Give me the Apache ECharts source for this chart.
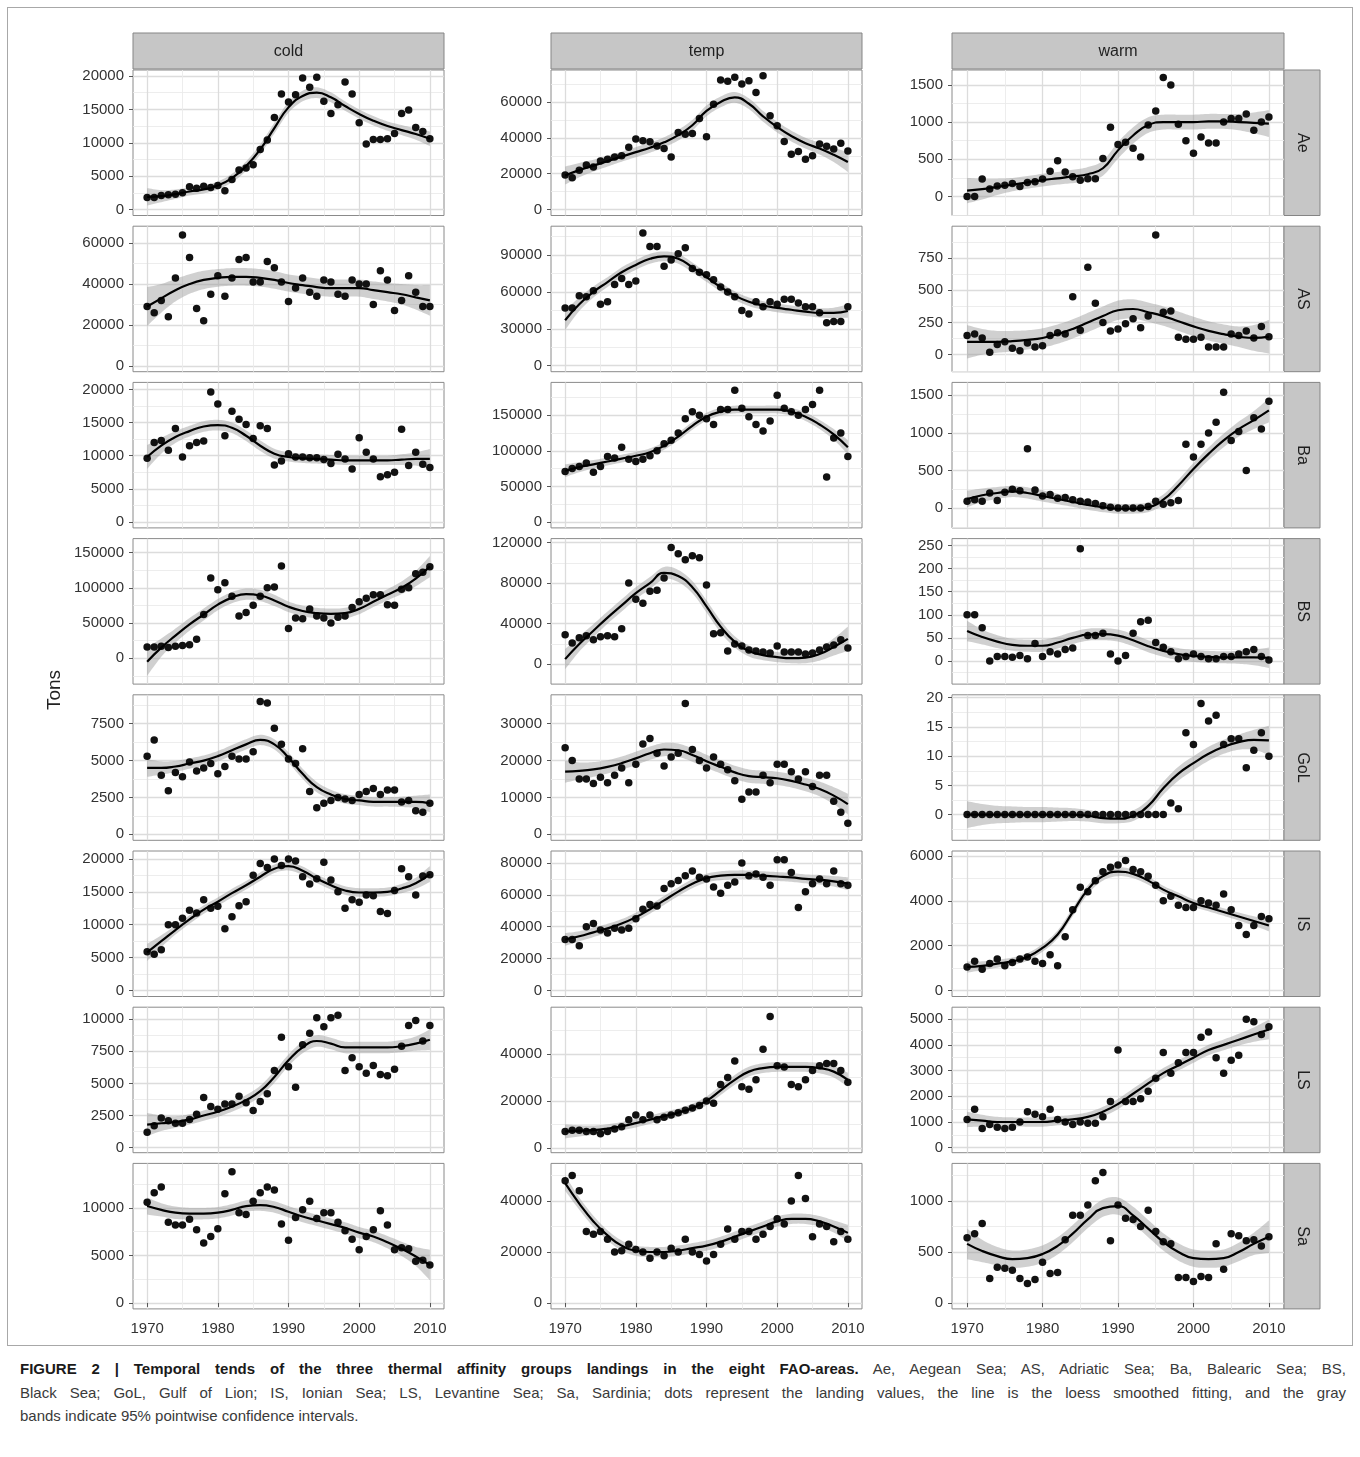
<!DOCTYPE html>
<html>
<head>
<meta charset="utf-8">
<title>Figure 2</title>
<script src="https://cdn.jsdelivr.net/npm/echarts@6.0.0/dist/echarts.min.js"></script>
<style>
  html, body { margin: 0; padding: 0; background: #fff; }
  #frame { position: absolute; left: 7px; top: 7px; width: 1344px; height: 1337px; border: 1px solid #a8a8a8; }
  #chart { position: absolute; left: 0; top: 0; width: 1360px; height: 1352px; }
  #caption { position: absolute; left: 20px; top: 1357px; width: 1326px; font-family: "Liberation Sans", Arial, sans-serif;
             font-size: 15px; line-height: 23.5px; color: #3a3a3a; }
  #caption .j { text-align: justify; text-align-last: justify; }
  #caption b { color: #1a1a1a; }
</style>
</head>
<body>
<div id="frame"></div>
<div id="chart"></div>
<div id="caption">
  <div class="j"><b>FIGURE 2 | Temporal tends of the three thermal affinity groups landings in the eight FAO-areas.</b> Ae, Aegean Sea; AS, Adriatic Sea; Ba, Balearic Sea; BS,</div>
  <div class="j">Black Sea; GoL, Gulf of Lion; IS, Ionian Sea; LS, Levantine Sea; Sa, Sardinia; dots represent the landing values, the line is the loess smoothed fitting, and the gray</div>
  <div>bands indicate 95% pointwise confidence intervals.</div>
</div>
<script>
// years of the landings and of the loess curve
var years = [1970, 1971, 1972, 1973, 1974, 1975, 1976, 1977, 1978, 1979, 1980, 1981, 1982, 1983, 1984, 1985, 1986, 1987, 1988, 1989,
    1990, 1991, 1992, 1993, 1994, 1995, 1996, 1997, 1998, 1999, 2000, 2001, 2002, 2003, 2004, 2005, 2006, 2007, 2008, 2009, 2010];
var fitYears = [1970, 1972, 1974, 1976, 1978, 1980, 1982, 1984, 1986, 1988, 1990, 1992, 1994, 1996, 1998, 2000, 2002, 2004, 2006, 2008, 2010];
var groups = ['cold', 'temp', 'warm'];
var areas = ['Ae', 'AS', 'Ba', 'BS', 'GoL', 'IS', 'LS', 'Sa'];
var xTicks = [1970, 1980, 1990, 2000, 2010];
var xMinor = [1975, 1985, 1995, 2005];

// Ae
var aeCold = [1800, 1800, 2100, 2200, 2300, 2500, 3400, 3200, 3500, 3300, 3600, 2800, 4500, 5900, 6200, 6700, 9000, 10400, 13800, 17300, 16100, 17200, 19700, 18300, 19800, 16200, 14400, 15700, 19100, 17300, 13000, 9800, 10500, 10500, 10600, 11400, 14400, 14900, 12300, 11700, 10600];
var aeColdFit = [1900, 2000, 2300, 2700, 3000, 3600, 4700, 6500, 9000, 12200, 15300, 17000, 17500, 16800, 15500, 14300, 13300, 12500, 11900, 11300, 10600];
var aeColdSe = [1300, 900, 700, 600, 600, 600, 650, 700, 750, 800, 800, 800, 800, 750, 700, 700, 700, 700, 750, 850, 1100];
var aeColdTicks = [0, 5000, 10000, 15000, 20000];
var aeColdRange = [-900, 20900];

var aeTemp = [19300, 17800, 21900, 24900, 23700, 27100, 28000, 29300, 30000, 34700, 39300, 38300, 37800, 35500, 34000, 29300, 43000, 42000, 42400, 50800, 40600, 58700, 72200, 71500, 73700, 70000, 71800, 65300, 74600, 52300, 46700, 37900, 30900, 32400, 28000, 30000, 36500, 35300, 33700, 37000, 32700];
var aeTempFit = [19000, 22000, 24500, 27000, 29500, 32000, 34500, 37500, 41500, 47000, 55000, 60000, 62500, 59000, 52000, 46000, 41000, 37000, 34000, 30500, 26500];
var aeTempSe = [5000, 4000, 3300, 3000, 2800, 2800, 2800, 2800, 3000, 3000, 3000, 3000, 3000, 3000, 3000, 3000, 3000, 3000, 3300, 4000, 5500];
var aeTempTicks = [0, 20000, 40000, 60000];
var aeTempRange = [-3300, 77800];

var aeWarm = [0, 0, 235, 100, 140, 150, 175, 135, 190, 200, 235, 340, 480, 330, 265, 220, 240, 240, 510, 930, 700, 730, 650, 530, 960, 1150, 1600, 1500, 970, 750, 580, 800, 720, 720, 1000, 1050, 1050, 1110, 890, 1000, 1070];
var aeWarmFit = [80, 100, 130, 160, 190, 220, 245, 270, 300, 380, 620, 820, 960, 1000, 1000, 1000, 1010, 1010, 1000, 990, 980];
var aeWarmSe = [170, 140, 110, 90, 85, 85, 85, 90, 95, 100, 110, 110, 105, 100, 100, 100, 100, 100, 110, 140, 180];
var aeWarmTicks = [0, 500, 1000, 1500];
var aeWarmRange = [-255, 1700];

// AS
var asCold = [29000, 26000, 32000, 24000, 43000, 64000, 53000, 28000, 22000, 35000, 44000, 34000, 43000, 52000, 53000, 41000, 41000, 51000, 48000, 41000, 31500, 38000, 43000, 36000, 34000, 42000, 41000, 35000, 34000, 42000, 40000, 40000, 30000, 46500, 42000, 27000, 32000, 44000, 36000, 29000, 29000];
var asColdFit = [29000, 33000, 37000, 40000, 42000, 43000, 43500, 43500, 43000, 42000, 40500, 39500, 38500, 38000, 38000, 38000, 37000, 36000, 35000, 33500, 32000];
var asColdSe = [9500, 7000, 5500, 4800, 4500, 4300, 4300, 4300, 4300, 4300, 4200, 4200, 4200, 4200, 4200, 4200, 4300, 4500, 5000, 6000, 7500];
var asColdTicks = [0, 20000, 40000, 60000];
var asColdRange = [-2900, 68300];

var asTemp = [47000, 47000, 57000, 56000, 61000, 50000, 52000, 66000, 71000, 66000, 69000, 108000, 97000, 97000, 81000, 86000, 91000, 96000, 79000, 76000, 74000, 70000, 64000, 60000, 56000, 45000, 42000, 52000, 48000, 52000, 50000, 54000, 54000, 51000, 48000, 48000, 43000, 35000, 36000, 36000, 48000];
var asTempFit = [37000, 50000, 60000, 68000, 76000, 82000, 87000, 89000, 87000, 80000, 72000, 64000, 57000, 52000, 49000, 47000, 45500, 44000, 43000, 43000, 44500];
var asTempSe = [8000, 5500, 4500, 4000, 4000, 4000, 4000, 4000, 4000, 4000, 3800, 3800, 3500, 3500, 3500, 3500, 3500, 3500, 3800, 4200, 5500];
var asTempTicks = [0, 30000, 60000, 90000];
var asTempRange = [-4900, 113500];

var asWarm = [150, 160, 130, 20, 80, 100, 50, 30, 90, 60, 70, 150, 170, 160, 450, 190, 680, 400, 250, 185, 200, 240, 280, 210, 300, 930, 330, 340, 135, 120, 120, 135, 60, 60, 60, 160, 150, 185, 130, 220, 140];
var asWarmFit = [100, 100, 100, 105, 115, 130, 160, 200, 250, 300, 345, 355, 330, 300, 260, 220, 185, 160, 140, 130, 140];
var asWarmSe = [130, 100, 85, 80, 75, 75, 75, 75, 75, 75, 75, 75, 75, 75, 75, 75, 75, 75, 80, 100, 130];
var asWarmTicks = [0, 250, 500, 750];
var asWarmRange = [-132, 998];

// Ba
var baCold = [9600, 12000, 12300, 10800, 14100, 9800, 11500, 12000, 12200, 19600, 17800, 13000, 16700, 15500, 14700, 12600, 14500, 14100, 8600, 9200, 10300, 9800, 9800, 9700, 9700, 9400, 8800, 10200, 9500, 8000, 12700, 10500, 9500, 6800, 7100, 7500, 14000, 8500, 10500, 8700, 8200];
var baColdFit = [9800, 11500, 12800, 13700, 14400, 14600, 14200, 13000, 11500, 10300, 9800, 9600, 9500, 9400, 9300, 9300, 9300, 9300, 9400, 9500, 9500];
var baColdSe = [1800, 1200, 900, 800, 800, 800, 800, 800, 800, 750, 700, 700, 700, 700, 700, 700, 700, 700, 800, 1000, 1500];
var baColdTicks = [0, 5000, 10000, 15000, 20000];
var baColdRange = [-900, 21050];

var baTemp = [71000, 75000, 78000, 83000, 70000, 78000, 92000, 90000, 105000, 88000, 85000, 88000, 93000, 100000, 110000, 115000, 125000, 145000, 155000, 150000, 145000, 137000, 158000, 158000, 185000, 160000, 148000, 137000, 128000, 142000, 178000, 160000, 155000, 150000, 158000, 165000, 185000, 63000, 118000, 125000, 92000];
var baTempFit = [72000, 77000, 81000, 85000, 89000, 93000, 98000, 107000, 120000, 135000, 148000, 155000, 158000, 158000, 158000, 158000, 155000, 148000, 137000, 123000, 105000];
var baTempSe = [9000, 7000, 6000, 5500, 5500, 5500, 5500, 5500, 5500, 5500, 5500, 5500, 5500, 5500, 5500, 5500, 5500, 6000, 6500, 7500, 10000];
var baTempTicks = [0, 50000, 100000, 150000];
var baTempRange = [-8400, 196200];

var baWarm = [90, 110, 90, 200, 100, 210, 250, 230, 790, 240, 160, 180, 130, 140, 110, 90, 80, 60, 30, 10, 0, 0, 0, 0, 20, 90, 50, 70, 100, 850, 680, 850, 1000, 1140, 1540, 900, 1020, 500, 1200, 1050, 1420];
var baWarmFit = [120, 170, 200, 220, 200, 160, 120, 80, 40, 10, -10, -10, 10, 110, 300, 520, 720, 900, 1050, 1170, 1300];
var baWarmSe = [110, 90, 80, 75, 75, 75, 70, 65, 65, 65, 65, 65, 65, 70, 75, 80, 85, 90, 100, 120, 160];
var baWarmTicks = [0, 500, 1000, 1500];
var baWarmRange = [-265, 1672];

// BS
var bsCold = [16000, 16000, 17000, 15000, 17000, 18000, 19000, 27000, 62000, 114000, 97000, 107000, 88000, 60000, 65000, 75000, 88000, 100000, 101000, 131000, 42000, 57000, 56000, 70000, 60000, 57000, 50000, 58000, 60000, 72000, 80000, 85000, 90000, 90000, 76000, 75000, 98000, 100000, 120000, 122000, 130000];
var bsColdFit = [-5000, 15000, 32000, 48000, 62000, 76000, 86000, 91000, 89000, 82000, 73000, 67000, 64000, 63000, 64000, 70000, 80000, 90000, 100000, 113000, 130000];
var bsColdSe = [20000, 13000, 10000, 9000, 8500, 8000, 8000, 8000, 8000, 8000, 7500, 7500, 7500, 7500, 7500, 7500, 7500, 8000, 9000, 11000, 15000];
var bsColdTicks = [0, 50000, 100000, 150000];
var bsColdRange = [-36800, 169800];

var bsTemp = [29000, 21000, 26000, 28000, 24000, 27000, 28000, 27000, 35000, 80000, 64000, 60000, 72000, 73000, 85000, 115000, 109000, 103000, 107000, 105000, 78000, 30000, 31000, 13000, 20000, 18000, 14000, 13000, 12000, 11000, 18000, 12000, 12000, 12000, 10000, 11000, 14000, 17000, 19000, 24000, 16000];
var bsTempFit = [5000, 20000, 33000, 46000, 58000, 70000, 80000, 90000, 87000, 76000, 57000, 37000, 22000, 13000, 9000, 7000, 6000, 6500, 10000, 17000, 25000];
var bsTempSe = [10000, 7500, 6500, 6000, 6000, 6000, 6000, 6000, 6000, 6000, 6000, 6000, 5500, 5500, 5000, 5000, 5000, 5500, 6500, 8500, 12000];
var bsTempTicks = [0, 40000, 80000, 120000];
var bsTempRange = [-19650, 123900];

var bsWarm = [100, 100, 72, 0, 10, 10, 8, 12, 5, 38, 10, 20, 15, 25, 28, 243, 55, 55, 60, 15, 0, 12, 60, 85, 88, 40, 30, 20, 5, 10, 15, 10, 5, 5, 10, 10, 15, 20, 25, 10, 2];
var bsWarmFit = [65, 52, 42, 35, 33, 33, 40, 50, 57, 58, 55, 45, 32, 22, 15, 11, 9, 8, 8, 8, 7];
var bsWarmSe = [22, 16, 14, 13, 13, 13, 13, 13, 13, 13, 13, 13, 13, 13, 13, 13, 13, 13, 14, 17, 22];
var bsWarmTicks = [0, 50, 100, 150, 200, 250];
var bsWarmRange = [-50, 265];

// GoL
var golCold = [5300, 6400, 4000, 2950, 4200, 3900, 4900, 4300, 4500, 4800, 4100, 4600, 5300, 5100, 5100, 5600, 9000, 8900, 7200, 6100, 5100, 4800, 5800, 2900, 1800, 2100, 2300, 2500, 2400, 2300, 2700, 2900, 3100, 2700, 3000, 3000, 2200, 2300, 1600, 1500, 2100];
var golColdFit = [4500, 4500, 4600, 4800, 5000, 5300, 5700, 6100, 6400, 6100, 5200, 4100, 3200, 2700, 2400, 2300, 2200, 2200, 2200, 2200, 2100];
var golColdSe = [600, 450, 380, 350, 350, 350, 350, 350, 350, 350, 350, 350, 350, 320, 320, 320, 320, 320, 350, 420, 600];
var golColdTicks = [0, 2500, 5000, 7500];
var golColdRange = [-405, 9460];

var golTemp = [23500, 20000, 15000, 15000, 13800, 15500, 14000, 16000, 18000, 14000, 19000, 24500, 26000, 22000, 18500, 21000, 22000, 35500, 23000, 20000, 18000, 21000, 19000, 17500, 14500, 9500, 11500, 11500, 16000, 14000, 19000, 19000, 17000, 15000, 17000, 13000, 16000, 16000, 9000, 6000, 3000];
var golTempFit = [17000, 17200, 17600, 18300, 19300, 20600, 22000, 23000, 22800, 21500, 19800, 18300, 16800, 15800, 15500, 15200, 14500, 13500, 12300, 10500, 8200];
var golTempSe = [3000, 2300, 2000, 1800, 1800, 1800, 1800, 1800, 1800, 1800, 1800, 1800, 1800, 1800, 1800, 1800, 1800, 1800, 2000, 2300, 2800];
var golTempTicks = [0, 10000, 20000, 30000];
var golTempRange = [-1620, 37840];

var golWarm = [0, 0, 0, 0, 0, 0, 0, 0, 0, 0, 0, 0, 0, 0, 0, 0, 0, 0, 0, 0, 0, 0, 0, 0, 0, 0, 0, 2, 1, 14, 12, 19, 16, 17, 12, 13, 13, 8, 11, 14, 10];
var golWarmFit = [0, 0, 0, 0, 0, 0, 0, 0, -0.2, -0.6, -0.7, -0.2, 1.5, 4.5, 7, 8.8, 10.4, 11.6, 12.4, 12.8, 12.7];
var golWarmSe = [2.3, 1.8, 1.5, 1.4, 1.3, 1.3, 1.2, 1.1, 1.0, 0.9, 0.8, 0.9, 1.0, 1.1, 1.2, 1.2, 1.2, 1.2, 1.3, 1.7, 2.5];
var golWarmTicks = [0, 5, 10, 15, 20];
var golWarmRange = [-4.4, 20.5];

// IS
var isCold = [5900, 5500, 6200, 10000, 10000, 11000, 12200, 11800, 13800, 12500, 12800, 9400, 11200, 12900, 13500, 17500, 19300, 18700, 20000, 19000, 20000, 19700, 17300, 16200, 17000, 19500, 16800, 15000, 12500, 13800, 13400, 14500, 14400, 12000, 11700, 15200, 18500, 17300, 14500, 17400, 17600];
var isColdFit = [5800, 7500, 9200, 10800, 12300, 13500, 14800, 16000, 17300, 18500, 18900, 18200, 17000, 16000, 15200, 14900, 14900, 15000, 15500, 16300, 17700];
var isColdSe = [1300, 900, 700, 650, 650, 650, 650, 650, 650, 650, 650, 650, 650, 650, 650, 650, 650, 650, 700, 850, 1200];
var isColdTicks = [0, 5000, 10000, 15000, 20000];
var isColdRange = [-900, 21200];

var isTemp = [32000, 32000, 28000, 40000, 42000, 38000, 36000, 39000, 38000, 39000, 45000, 51000, 54000, 53000, 64000, 67000, 69000, 72000, 75000, 71000, 70000, 65000, 61000, 66000, 68000, 80000, 72000, 73000, 71000, 66000, 82000, 82000, 74000, 52000, 62000, 67000, 70000, 67000, 75000, 67000, 66000];
var isTempFit = [32000, 34000, 36500, 39000, 42000, 46000, 51000, 56500, 62000, 67000, 70500, 72000, 72500, 72500, 72000, 71500, 71000, 70000, 69500, 68500, 67000];
var isTempSe = [4000, 3200, 3000, 2800, 2800, 2800, 2800, 2800, 2800, 2800, 2800, 2800, 2800, 2800, 2800, 2800, 2800, 2800, 3000, 3300, 4000];
var isTempTicks = [0, 20000, 40000, 60000, 80000];
var isTempRange = [-3750, 87500];

var isWarm = [1050, 1300, 950, 1200, 1400, 1100, 1250, 1400, 1500, 1300, 1200, 1600, 1100, 2400, 3600, 4600, 4400, 4900, 5300, 5500, 5600, 5800, 5400, 5300, 5100, 4700, 4000, 4200, 3800, 3700, 3700, 4000, 3900, 3800, 4300, 3600, 2900, 2500, 2900, 3300, 3200];
var isWarmFit = [1050, 1100, 1200, 1300, 1500, 1900, 2500, 3500, 4500, 5100, 5300, 5200, 4900, 4500, 4200, 3900, 3700, 3500, 3300, 3100, 2900];
var isWarmSe = [250, 200, 180, 170, 170, 170, 180, 190, 200, 200, 200, 190, 180, 170, 170, 170, 170, 170, 180, 210, 260];
var isWarmTicks = [0, 2000, 4000, 6000];
var isWarmRange = [-267, 6222];

// LS
var lsCold = [1200, 1700, 2300, 2100, 1900, 1900, 2200, 2600, 3900, 3200, 3000, 3400, 3400, 4000, 3500, 2900, 3600, 4200, 6000, 8600, 6300, 4700, 8000, 8900, 10100, 9400, 10100, 10300, 6000, 7000, 6300, 5800, 6400, 5700, 5600, 6100, 7900, 9500, 9900, 8300, 9500];
var lsColdFit = [1800, 1900, 2000, 2200, 2500, 2800, 3200, 3700, 4400, 5500, 6800, 7800, 8300, 8100, 7800, 7800, 7800, 7800, 7900, 8100, 8400];
var lsColdSe = [900, 600, 450, 400, 400, 400, 400, 400, 420, 450, 450, 450, 450, 450, 450, 450, 450, 450, 480, 550, 800];
var lsColdTicks = [0, 2500, 5000, 7500, 10000];
var lsColdRange = [-390, 10930];

var lsTemp = [7000, 7500, 7500, 7000, 7000, 6000, 7000, 8000, 9000, 12000, 14000, 12000, 14000, 12000, 13000, 14000, 15000, 16000, 17000, 18000, 20000, 19000, 27000, 30000, 37000, 26000, 25000, 29000, 42000, 56000, 35000, 34500, 27000, 26000, 29000, 33000, 35000, 36000, 36000, 33000, 28000];
var lsTempFit = [7000, 7200, 7500, 8200, 9200, 10500, 12000, 13500, 15000, 17000, 20000, 24500, 29000, 32500, 34000, 34500, 34500, 34500, 34000, 32500, 29000];
var lsTempSe = [3000, 2400, 2000, 1800, 1800, 1800, 1800, 1800, 1800, 1800, 1900, 2000, 2100, 2100, 2100, 2100, 2100, 2100, 2200, 2500, 3000];
var lsTempTicks = [0, 20000, 40000];
var lsTempRange = [-2100, 60000];

var lsWarm = [1100, 1500, 750, 900, 800, 750, 800, 1000, 1400, 1300, 1200, 1500, 1100, 1000, 900, 1000, 950, 950, 1200, 1800, 3800, 1800, 1800, 1900, 2200, 2700, 3700, 2900, 3300, 3700, 3700, 4300, 4500, 3500, 2900, 3400, 3600, 5000, 4900, 4400, 4700];
var lsWarmFit = [1100, 1050, 1000, 1000, 1000, 1000, 1050, 1100, 1200, 1400, 1700, 2100, 2500, 2900, 3200, 3500, 3800, 4000, 4200, 4400, 4600];
var lsWarmSe = [300, 230, 200, 180, 180, 180, 180, 180, 180, 190, 200, 200, 200, 200, 200, 200, 200, 210, 230, 280, 380];
var lsWarmTicks = [0, 1000, 2000, 3000, 4000, 5000];
var lsWarmRange = [-194, 5465];

// Sa
var saCold = [10600, 11600, 12200, 8500, 8200, 8200, 8800, 7700, 6300, 7000, 7800, 11500, 13800, 9500, 9300, 10700, 11600, 12200, 11900, 8300, 6600, 9000, 9800, 10700, 8900, 9500, 9500, 8500, 7600, 6700, 5600, 7000, 7700, 9700, 8200, 5600, 5800, 5700, 4400, 4500, 4000];
var saColdFit = [10200, 9800, 9500, 9400, 9400, 9500, 9800, 10200, 10300, 10100, 9600, 9100, 8700, 8300, 7900, 7400, 7000, 6400, 5700, 4900, 4000];
var saColdSe = [900, 700, 650, 600, 600, 600, 600, 600, 600, 600, 600, 600, 600, 600, 600, 600, 600, 650, 750, 1000, 1600];
var saColdTicks = [0, 5000, 10000];
var saColdRange = [-625, 14690];

var saTemp = [48000, 50000, 44000, 28000, 27000, 28000, 25000, 20000, 20500, 23000, 21000, 20000, 17500, 20000, 18500, 21500, 20000, 25000, 20000, 19000, 16500, 19000, 23000, 29000, 25000, 28000, 28000, 25000, 27000, 30000, 33000, 31000, 40000, 50000, 41000, 26000, 31000, 30000, 24000, 28000, 25000];
var saTempFit = [47000, 39000, 32000, 26500, 22500, 20500, 20000, 20000, 20500, 21500, 22500, 24000, 26000, 28000, 30000, 32000, 33000, 33000, 32000, 30000, 27500];
var saTempSe = [3000, 2400, 2200, 2000, 2000, 2000, 2000, 2000, 2000, 2000, 2000, 2000, 2000, 2000, 2000, 2000, 2000, 2000, 2100, 2400, 3200];
var saTempTicks = [0, 20000, 40000];
var saTempRange = [-2330, 54760];

var saWarm = [640, 680, 780, 240, 350, 340, 320, 240, 190, 230, 400, 290, 300, 620, 860, 860, 960, 1200, 1280, 610, 960, 830, 820, 750, 910, 700, 600, 580, 250, 250, 210, 260, 250, 580, 330, 680, 660, 610, 620, 560, 650];
var saWarmFit = [580, 510, 460, 430, 440, 480, 560, 680, 820, 930, 950, 860, 730, 600, 500, 440, 430, 440, 500, 580, 650];
var saWarmSe = [150, 110, 90, 85, 85, 85, 85, 85, 85, 85, 85, 85, 85, 85, 85, 85, 85, 85, 90, 110, 160];
var saWarmTicks = [0, 500, 1000];
var saWarmRange = [-58, 1369];

// panel lookup, row by row (areas) and column by column (groups)
var panels = [
    [[aeCold, aeColdFit, aeColdSe, aeColdTicks, aeColdRange], [aeTemp, aeTempFit, aeTempSe, aeTempTicks, aeTempRange], [aeWarm, aeWarmFit, aeWarmSe, aeWarmTicks, aeWarmRange]],
    [[asCold, asColdFit, asColdSe, asColdTicks, asColdRange], [asTemp, asTempFit, asTempSe, asTempTicks, asTempRange], [asWarm, asWarmFit, asWarmSe, asWarmTicks, asWarmRange]],
    [[baCold, baColdFit, baColdSe, baColdTicks, baColdRange], [baTemp, baTempFit, baTempSe, baTempTicks, baTempRange], [baWarm, baWarmFit, baWarmSe, baWarmTicks, baWarmRange]],
    [[bsCold, bsColdFit, bsColdSe, bsColdTicks, bsColdRange], [bsTemp, bsTempFit, bsTempSe, bsTempTicks, bsTempRange], [bsWarm, bsWarmFit, bsWarmSe, bsWarmTicks, bsWarmRange]],
    [[golCold, golColdFit, golColdSe, golColdTicks, golColdRange], [golTemp, golTempFit, golTempSe, golTempTicks, golTempRange], [golWarm, golWarmFit, golWarmSe, golWarmTicks, golWarmRange]],
    [[isCold, isColdFit, isColdSe, isColdTicks, isColdRange], [isTemp, isTempFit, isTempSe, isTempTicks, isTempRange], [isWarm, isWarmFit, isWarmSe, isWarmTicks, isWarmRange]],
    [[lsCold, lsColdFit, lsColdSe, lsColdTicks, lsColdRange], [lsTemp, lsTempFit, lsTempSe, lsTempTicks, lsTempRange], [lsWarm, lsWarmFit, lsWarmSe, lsWarmTicks, lsWarmRange]],
    [[saCold, saColdFit, saColdSe, saColdTicks, saColdRange], [saTemp, saTempFit, saTempSe, saTempTicks, saTempRange], [saWarm, saWarmFit, saWarmSe, saWarmTicks, saWarmRange]]
];

// layout
var colLeft = [133, 551, 952];
var colWidth = [311, 311, 332];
var rowTop = 70, rowStep = 156.2, rowHeight = 145.5;
var stripFill = '#c6c6c6', stripLine = '#858585';
var font = '"Liberation Sans", Arial, sans-serif';
var majorLine = { color: '#dcdcdc', width: 1.3 };
var minorLine = { color: '#ebebeb', width: 0.9 };

function minorOf(ticks, range) {
    var step = ticks[1] - ticks[0];
    var out = [];
    for (var v = ticks[0] - step / 2; v < range[1]; v += step) {
        if (v > range[0]) out.push(v);
    }
    return out;
}

// smooth pixel path through screen points (drawing only)
function smoothPts(p) {
    var out = [];
    for (var i = 0; i < p.length - 1; i++) {
        var p0 = p[i - 1] || p[i], p1 = p[i], p2 = p[i + 1], p3 = p[i + 2] || p[i + 1];
        var c1 = [p1[0] + (p2[0] - p0[0]) / 6, p1[1] + (p2[1] - p0[1]) / 6];
        var c2 = [p2[0] - (p3[0] - p1[0]) / 6, p2[1] - (p3[1] - p1[1]) / 6];
        for (var s = 0; s < 8; s++) {
            var t = s / 8, u = 1 - t;
            out.push([
                u * u * u * p1[0] + 3 * u * u * t * c1[0] + 3 * u * t * t * c2[0] + t * t * t * p2[0],
                u * u * u * p1[1] + 3 * u * u * t * c1[1] + 3 * u * t * t * c2[1] + t * t * t * p2[1]
            ]);
        }
    }
    out.push(p[p.length - 1]);
    return out;
}

function bandRenderer(fit, se) {
    return function (params, api) {
        if (params.dataIndex !== 0) return null;
        var up = [], lo = [];
        for (var i = 0; i < fitYears.length; i++) {
            up.push(api.coord([fitYears[i], fit[i] + se[i]]));
            lo.push(api.coord([fitYears[i], fit[i] - se[i]]));
        }
        var pts = smoothPts(up).concat(smoothPts(lo).reverse());
        return {
            type: 'polygon', shape: { points: pts },
            style: { fill: 'rgba(150,150,150,0.45)' }
        };
    };
}

function plain(v) { return String(v); }

var grids = [], xAxes = [], yAxes = [], series = [], graphics = [];

areas.forEach(function (area, r) {
    groups.forEach(function (group, c) {
        var p = panels[r][c];
        var pts = p[0], fit = p[1], se = p[2], ticks = p[3], range = p[4];
        var k = r * 3 + c;
        var bottom = r === areas.length - 1;
        grids.push({
            left: colLeft[c], top: rowTop + r * rowStep, width: colWidth[c], height: rowHeight,
            show: true, backgroundColor: '#fff', borderColor: '#8a8a8a', borderWidth: 1
        });
        xAxes.push({
            gridIndex: k, type: 'value', min: 1968, max: 2012,
            axisLine: { show: false },
            axisTick: { show: bottom, customValues: xTicks, length: 4, lineStyle: { color: '#555' } },
            axisLabel: { show: bottom, customValues: xTicks, formatter: plain, fontSize: 15, color: '#333', fontFamily: font, margin: 12 },
            splitLine: { show: true, lineStyle: majorLine }
        });
        xAxes.push({
            gridIndex: k, type: 'value', min: 1968, max: 2012,
            axisLine: { show: false },
            axisTick: { show: false, customValues: xMinor },
            axisLabel: { show: false, customValues: xMinor },
            splitLine: { show: true, lineStyle: minorLine }
        });
        yAxes.push({
            gridIndex: k, type: 'value', min: range[0], max: range[1],
            axisLine: { show: false },
            axisTick: { show: true, customValues: ticks, length: 4, lineStyle: { color: '#555' } },
            axisLabel: { show: true, customValues: ticks, formatter: plain, fontSize: 15, color: '#333', fontFamily: font, margin: 9 },
            splitLine: { show: true, lineStyle: majorLine }
        });
        var minor = minorOf(ticks, range);
        yAxes.push({
            gridIndex: k, type: 'value', min: range[0], max: range[1],
            axisLine: { show: false },
            axisTick: { show: false, customValues: minor },
            axisLabel: { show: false, customValues: minor },
            splitLine: { show: true, lineStyle: minorLine }
        });
        var xi = 2 * k, yi = 2 * k;
        series.push({
            type: 'custom', xAxisIndex: xi, yAxisIndex: yi, z: 1, silent: true, clip: true,
            data: fitYears.map(function (x, i) { return [x, fit[i] - se[i], fit[i] + se[i]]; }),
            encode: { x: 0, y: [1, 2] },
            renderItem: bandRenderer(fit, se)
        });
        series.push({
            type: 'scatter', xAxisIndex: xi, yAxisIndex: yi, z: 2,
            data: years.map(function (x, i) { return [x, pts[i]]; }),
            symbolSize: 7.5, itemStyle: { color: '#111', opacity: 1 }, silent: true
        });
        series.push({
            type: 'line', xAxisIndex: xi, yAxisIndex: yi, z: 3,
            data: fitYears.map(function (x, i) { return [x, fit[i]]; }),
            smooth: true, symbol: 'none', silent: true,
            lineStyle: { color: '#000', width: 2.2 }
        });
    });
    var top = rowTop + r * rowStep;
    graphics.push({
        type: 'rect', shape: { x: 1284, y: top, width: 36, height: rowHeight },
        style: { fill: stripFill, stroke: stripLine, lineWidth: 1 }
    });
    graphics.push({
        type: 'text', x: 1302, y: top + rowHeight / 2, rotation: -Math.PI / 2,
        style: { text: area, font: '16px ' + font, fill: '#1f1f1f', align: 'center', verticalAlign: 'middle' }
    });
});

groups.forEach(function (group, c) {
    graphics.push({
        type: 'rect', shape: { x: colLeft[c], y: 33, width: colWidth[c], height: 36 },
        style: { fill: stripFill, stroke: stripLine, lineWidth: 1 }
    });
    graphics.push({
        type: 'text', x: colLeft[c] + colWidth[c] / 2, y: 52,
        style: { text: group, font: '16px ' + font, fill: '#1f1f1f', align: 'center', verticalAlign: 'middle' }
    });
});

graphics.push({
    type: 'text', x: 55, y: 690, rotation: Math.PI / 2,
    style: { text: 'Tons', font: '19px ' + font, fill: '#222', align: 'center', verticalAlign: 'middle' }
});

var chart = echarts.init(document.getElementById('chart'));
chart.setOption({
    animation: false,
    backgroundColor: 'transparent',
    grid: grids,
    xAxis: xAxes,
    yAxis: yAxes,
    series: series,
    graphic: graphics
});
</script>
</body>
</html>
